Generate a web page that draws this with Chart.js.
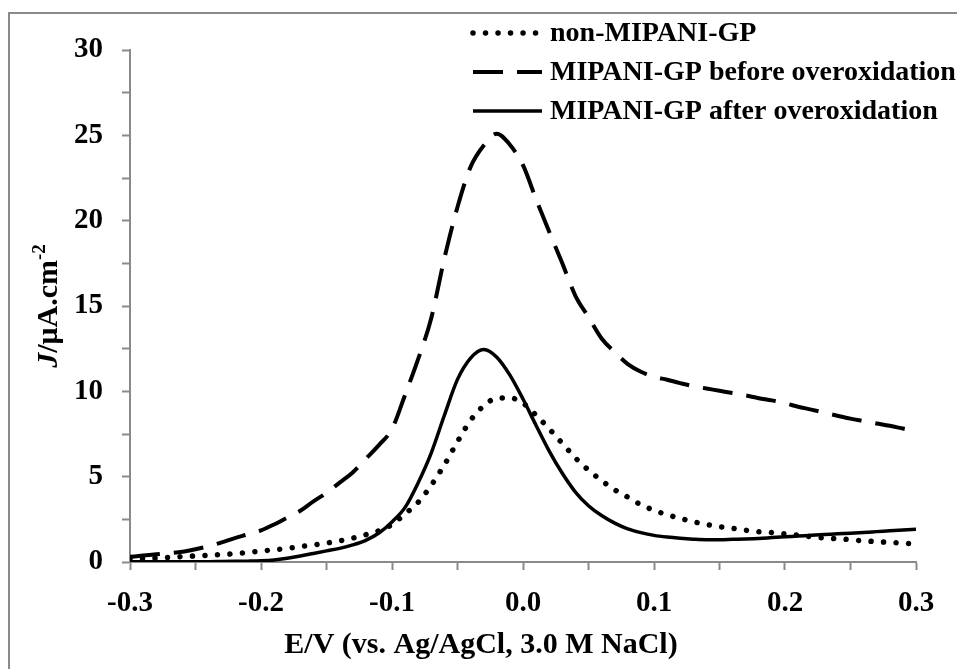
<!DOCTYPE html>
<html>
<head>
<meta charset="utf-8">
<script src="https://cdn.jsdelivr.net/npm/chart.js@4.4.1/dist/chart.umd.min.js"></script>
<style>
  html, body { margin: 0; padding: 0; background: #fff; }
  #wrap { width: 957px; height: 669px; }
</style>
</head>
<body>
<div id="wrap"><canvas id="chart" width="957" height="669"></canvas></div>
<script>
// E/V vs Ag/AgCl
const potential = [
    -0.30, -0.29, -0.28, -0.27, -0.26, -0.25, -0.24, -0.23, -0.22, -0.21,
    -0.20, -0.19, -0.18, -0.17, -0.16, -0.15, -0.14, -0.13, -0.12, -0.11,
    -0.10, -0.09, -0.08, -0.07, -0.06, -0.05, -0.04, -0.03, -0.02, -0.01,
    0.00, 0.01, 0.02, 0.03, 0.04, 0.05, 0.06, 0.07, 0.08, 0.09,
    0.10, 0.11, 0.12, 0.13, 0.14, 0.15, 0.16, 0.17, 0.18, 0.19,
    0.20, 0.21, 0.22, 0.23, 0.24, 0.25, 0.26, 0.27, 0.28, 0.29, 0.30
];

// J / uA.cm-2
const nonMipani = [
    0.20, 0.21, 0.23, 0.27, 0.32, 0.36, 0.39, 0.44, 0.49, 0.56,
    0.64, 0.72, 0.80, 0.90, 1.00, 1.11, 1.24, 1.40, 1.60, 1.83,
    2.20, 2.82, 3.50, 4.50, 5.70, 7.05, 8.30, 9.15, 9.60, 9.62,
    9.30, 8.60, 7.80, 6.95, 6.10, 5.38, 4.77, 4.23, 3.80, 3.36,
    3.03, 2.77, 2.56, 2.36, 2.20, 2.07, 1.97, 1.86, 1.77, 1.72,
    1.65, 1.57, 1.48, 1.41, 1.36, 1.31, 1.24, 1.19, 1.15, 1.10, 1.05
];

const beforeOverox = [
    0.30, 0.38, 0.45, 0.52, 0.60, 0.75, 0.92, 1.15, 1.40, 1.62,
    1.85, 2.20, 2.60, 3.00, 3.55, 4.05, 4.65, 5.25, 6.05, 6.85,
    7.80, 9.80, 11.90, 14.30, 17.80, 20.80, 23.15, 24.40, 25.10, 24.45,
    23.25, 21.25, 19.35, 17.50, 15.60, 14.35, 13.10, 12.30, 11.60, 11.15,
    10.85, 10.68, 10.48, 10.30, 10.17, 10.03, 9.90, 9.76, 9.60, 9.47,
    9.30, 9.10, 8.93, 8.75, 8.57, 8.40, 8.26, 8.12, 7.98, 7.82, 7.66
];

const afterOverox = [
    0.02, 0.02, 0.02, 0.02, 0.02, 0.02, 0.02, 0.03, 0.04, 0.05,
    0.07, 0.12, 0.22, 0.35, 0.50, 0.65, 0.80, 1.00, 1.27, 1.70,
    2.35, 3.20, 4.65, 6.40, 8.60, 10.70, 11.95, 12.45, 12.00, 10.95,
    9.55, 8.00, 6.50, 5.20, 4.10, 3.30, 2.72, 2.28, 1.94, 1.72,
    1.56, 1.46, 1.39, 1.34, 1.31, 1.31, 1.33, 1.35, 1.38, 1.43,
    1.48, 1.52, 1.57, 1.61, 1.65, 1.69, 1.73, 1.78, 1.83, 1.88, 1.92
];

const seriesNames = [
    'non-MIPANI-GP',
    'MIPANI-GP before overoxidation',
    'MIPANI-GP after overoxidation'
];

const xTitle = 'E/V (vs. Ag/AgCl, 3.0 M NaCl)';

const SERIF = "'Liberation Serif', 'Times New Roman', serif";
const AXIS_GREY = '#8a8a8a';

function toPoints(values) {
    return potential.map((x, i) => ({ x, y: values[i] }));
}

// gray outer frame (runs off the right/bottom edge in the original)
const framePlugin = {
    id: 'frame',
    beforeDraw(chart) {
        const ctx = chart.ctx;
        ctx.save();
        ctx.fillStyle = '#fff';
        ctx.fillRect(0, 0, chart.width, chart.height);
        ctx.strokeStyle = AXIS_GREY;
        ctx.lineWidth = 2;
        ctx.strokeRect(9, 13, chart.width + 20, chart.height + 20);
        ctx.restore();
    }
};

// axis titles: J is italic and cm has a superscript, so drawn by hand
const titlesPlugin = {
    id: 'titles',
    afterDraw(chart) {
        const ctx = chart.ctx;
        const area = chart.chartArea;
        ctx.save();
        ctx.fillStyle = '#000';
        ctx.textBaseline = 'alphabetic';

        // x title
        ctx.font = `bold 30px ${SERIF}`;
        ctx.textAlign = 'center';
        ctx.fillText(xTitle, area.left + 351, chart.height - 16);

        // y title, rotated
        ctx.textAlign = 'left';
        const parts = [
            { t: 'J', font: `italic bold 30px ${SERIF}`, dy: 0 },
            { t: '/μA.cm', font: `bold 30px ${SERIF}`, dy: 0 },
            { t: '-2', font: `bold 19px ${SERIF}`, dy: -12 }
        ];
        let total = 0;
        parts.forEach(p => { ctx.font = p.font; p.w = ctx.measureText(p.t).width; total += p.w; });
        ctx.translate(57, (area.top + area.bottom) / 2);
        ctx.rotate(-Math.PI / 2);
        let x = -total / 2;
        parts.forEach(p => {
            ctx.font = p.font;
            ctx.fillText(p.t, x, p.dy);
            x += p.w;
        });
        ctx.restore();
    }
};

// legend sits above the plot, top right, so it is drawn here
const legendPlugin = {
    id: 'topLegend',
    afterDraw(chart) {
        const ctx = chart.ctx;
        const rows = [33, 72, 111];
        const x0 = 473, x1 = 542;
        chart.data.datasets.forEach((ds, i) => {
            const y = rows[i];
            ctx.save();
            ctx.strokeStyle = ds.borderColor;
            ctx.lineWidth = ds.borderWidth;
            ctx.lineCap = ds.borderCapStyle || 'butt';
            ctx.setLineDash(ds.borderDash || []);
            ctx.beginPath();
            ctx.moveTo(x0, y);
            ctx.lineTo(x1, y);
            ctx.stroke();
            ctx.setLineDash([]);
            ctx.fillStyle = '#000';
            ctx.font = `bold 28px ${SERIF}`;
            ctx.textAlign = 'left';
            ctx.textBaseline = 'middle';
            ctx.fillText(ds.label, x1 + 8, y + 1);
            ctx.restore();
        });
    }
};

const ctx = document.getElementById('chart');

new Chart(ctx, {
    type: 'line',
    data: {
        datasets: [
            {
                label: seriesNames[0],
                data: toPoints(nonMipani),
                borderColor: '#000',
                borderWidth: 5.5,
                borderDash: [0.01, 12.5],
                borderCapStyle: 'round',
                pointRadius: 0,
                tension: 0.4,
                cubicInterpolationMode: 'monotone'
            },
            {
                label: seriesNames[1],
                data: toPoints(beforeOverox),
                borderColor: '#000',
                borderWidth: 4,
                borderDash: [30, 14],
                borderCapStyle: 'butt',
                pointRadius: 0,
                tension: 0.4,
                cubicInterpolationMode: 'monotone'
            },
            {
                label: seriesNames[2],
                data: toPoints(afterOverox),
                borderColor: '#000',
                borderWidth: 3.5,
                borderCapStyle: 'butt',
                pointRadius: 0,
                tension: 0.4,
                cubicInterpolationMode: 'monotone'
            }
        ]
    },
    options: {
        responsive: false,
        animation: false,
        devicePixelRatio: 1,
        layout: {
            padding: { top: 50, right: 41, left: 0, bottom: 0 }
        },
        scales: {
            x: {
                type: 'linear',
                min: -0.3,
                max: 0.3,
                afterFit(scale) { scale.height = 107; },
                border: { display: true, color: AXIS_GREY, width: 2 },
                grid: {
                    drawOnChartArea: false,
                    drawTicks: true,
                    tickLength: 8,
                    tickColor: AXIS_GREY,
                    tickWidth: 2
                },
                ticks: {
                    stepSize: 0.05,
                    autoSkip: false,
                    maxRotation: 0,
                    padding: 16,
                    color: '#000',
                    font: { family: SERIF, size: 29, weight: 'bold' },
                    callback(v) {
                        const r = Math.round(v * 100);
                        return r % 10 === 0 ? (Math.round(v * 10) / 10).toFixed(1) : '';
                    }
                }
            },
            y: {
                min: 0,
                max: 30,
                afterFit(scale) { scale.width = 130; },
                border: { display: true, color: AXIS_GREY, width: 2 },
                grid: {
                    drawOnChartArea: false,
                    drawTicks: true,
                    tickLength: 8,
                    tickColor: AXIS_GREY,
                    tickWidth: 2
                },
                ticks: {
                    stepSize: 2.5,
                    autoSkip: false,
                    padding: 19,
                    color: '#000',
                    font: { family: SERIF, size: 29, weight: 'bold' },
                    callback(v) {
                        return v % 5 === 0 ? String(v) : '';
                    }
                }
            }
        },
        plugins: {
            legend: { display: false },
            tooltip: { enabled: false }
        }
    },
    plugins: [framePlugin, titlesPlugin, legendPlugin]
});
</script>
</body>
</html>
